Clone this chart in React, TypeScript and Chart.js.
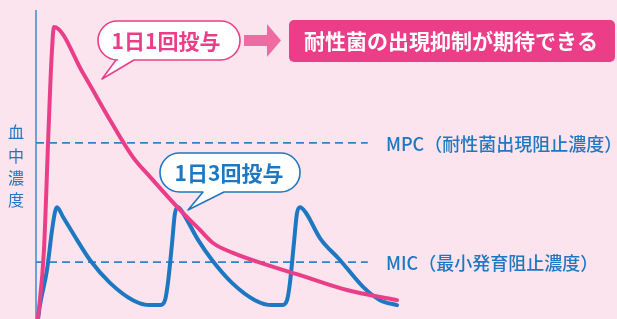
import { useEffect, useRef } from "react";
import { Chart, registerables } from "chart.js";
Chart.register(...registerables);

// time (hours) and concentration (relative units)
const onceDailyTime = [0.13, 0.52, 0.82, 1.01, 1.18, 3.07, 4.84, 6.34, 7.46, 9.42, 10.73, 11.58, 12.88, 15.11, 17.27, 20.34, 23.61];
const onceDailyConc = [0, 22.3, 61.2, 83.8, 94.5, 79.6, 64.4, 52.4, 46.0, 35.3, 28.8, 24.6, 21.4, 17.5, 14.2, 9.4, 6.1];

const thriceDailyTime = [0.13, 0.26, 0.72, 1.05, 1.24, 1.37, 1.77, 2.68, 3.53, 4.84, 6.34, 7.46, 8.11, 8.44, 8.63, 8.9, 9.09, 9.29, 9.61, 10.6, 11.51, 12.82, 14.32, 15.43, 16.09, 16.42, 16.61, 16.87, 17.07, 17.27, 17.66, 18.57, 19.88, 21.39, 22.5, 23.61];
const thriceDailyConc = [0, 4.5, 15.9, 28.8, 34.6, 36.2, 33.0, 25.6, 19.1, 11.7, 6.1, 4.5, 4.5, 6.1, 11.7, 24.6, 34.3, 36.2, 34.3, 25.6, 19.1, 11.7, 6.1, 4.5, 4.5, 6.1, 11.7, 24.6, 34.3, 36.2, 34.3, 26.2, 19.1, 10.4, 6.1, 4.5];

const thresholdNames = ["MPC（耐性菌出現阻止濃度）", "MIC（最小発育阻止濃度）"];
const thresholdValues = [57.0, 18.4];
const thresholdSpan = [0, 21.7];

const yAxisTitle = ["血", "中", "濃", "度"];
const onceLabel = "1日1回投与";
const thriceLabel = "1日3回投与";
const resultLabel = "耐性菌の出現抑制が期待できる";

const PINK = "#ea3f88";
const BLUE = "#1d78c1";
const BG = "#fbe4ee";
const FONT = '"Noto Sans CJK JP", "Noto Sans", sans-serif';

function bubble(ctx: CanvasRenderingContext2D, x: number, y: number, w: number, h: number, tail: number[], stroke: string) {
  const r = h / 2;
  ctx.save();
  ctx.beginPath();
  ctx.moveTo(x + r, y);
  ctx.lineTo(x + w - r, y);
  ctx.arc(x + w - r, y + r, r, -Math.PI / 2, Math.PI / 2);
  ctx.lineTo(tail[2], y + h);
  ctx.lineTo(tail[4], tail[5]);
  ctx.lineTo(tail[0], y + h);
  ctx.lineTo(x + r, y + h);
  ctx.arc(x + r, y + r, r, Math.PI / 2, (Math.PI * 3) / 2);
  ctx.closePath();
  ctx.fillStyle = "#ffffff";
  ctx.fill();
  ctx.lineWidth = 1.6;
  ctx.strokeStyle = stroke;
  ctx.lineJoin = "round";
  ctx.stroke();
  ctx.restore();
}

const decorPlugin = {
  id: "decor",
  beforeDatasetsDraw(chart: any) {
    const ctx: CanvasRenderingContext2D = chart.ctx;
    const a = chart.chartArea;
    ctx.save();
    ctx.strokeStyle = "#3a8ccf";
    ctx.lineWidth = 1.5;
    ctx.beginPath();
    ctx.moveTo(a.left, a.top);
    ctx.lineTo(a.left, a.bottom);
    ctx.stroke();
    ctx.restore();
  },
  afterDatasetsDraw(chart: any) {
    const ctx: CanvasRenderingContext2D = chart.ctx;
    const ys = chart.scales.y;
    ctx.save();
    // y axis title
    ctx.fillStyle = BLUE;
    ctx.font = `16px ${FONT}`;
    ctx.textAlign = "center";
    ctx.textBaseline = "middle";
    const ty = [132, 156, 178, 200];
    yAxisTitle.forEach((c, i) => ctx.fillText(c, 16, ty[i]));

    // threshold labels
    ctx.font = `500 18px ${FONT}`;
    ctx.textAlign = "left";
    thresholdNames.forEach((n, i) => {
      ctx.fillText(n, 386, ys.getPixelForValue(thresholdValues[i]) + 1);
    });

    // once daily bubble
    bubble(ctx, 98, 21, 142, 39, [116, 58, 134, 58, 102, 79], PINK);
    ctx.fillStyle = PINK;
    ctx.font = `bold 21px ${FONT}`;
    ctx.textAlign = "center";
    ctx.fillText(onceLabel, 166, 41);

    // arrow
    ctx.fillStyle = "#ef6ca2";
    ctx.beginPath();
    ctx.moveTo(244, 35);
    ctx.lineTo(267, 35);
    ctx.lineTo(267, 24);
    ctx.lineTo(281, 40.5);
    ctx.lineTo(267, 57);
    ctx.lineTo(267, 46);
    ctx.lineTo(244, 46);
    ctx.closePath();
    ctx.fill();

    // result box
    ctx.fillStyle = "#ec3d89";
    ctx.beginPath();
    (ctx as any).roundRect(289, 20, 326, 42, 5);
    ctx.fill();
    ctx.fillStyle = "#ffffff";
    ctx.font = `bold 21px ${FONT}`;
    ctx.fillText(resultLabel, 451, 41);

    // thrice daily bubble
    bubble(ctx, 160, 153, 140, 39, [203, 191, 224, 191, 188, 210], BLUE);
    ctx.fillStyle = BLUE;
    ctx.font = `bold 21px ${FONT}`;
    ctx.fillText(thriceLabel, 229, 173);
    ctx.restore();
  },
};

export default function App() {
  const ref = useRef<HTMLCanvasElement>(null);
  useEffect(() => {
    document.body.style.margin = "0";
    document.body.style.background = BG;
    const toPts = (xs: number[], ys: number[]) => xs.map((x, i) => ({ x, y: ys[i] }));
    const dashed = thresholdValues.map((v) => ({
      data: thresholdSpan.map((x) => ({ x, y: v })),
      borderColor: "#2f84c8",
      borderWidth: 1.6,
      borderDash: [8, 5],
      pointRadius: 0,
      order: 3,
    }));
    const chart = new Chart(ref.current!, {
      type: "line",
      data: {
        datasets: [
          ...dashed,
          {
            data: toPts(thriceDailyTime, thriceDailyConc),
            borderColor: BLUE,
            borderWidth: 4,
            pointRadius: 0,
            cubicInterpolationMode: "monotone",
            borderJoinStyle: "round",
            borderCapStyle: "round",
            clip: false,
            order: 2,
          },
          {
            data: toPts(onceDailyTime, onceDailyConc),
            borderColor: PINK,
            borderWidth: 4,
            pointRadius: 0,
            cubicInterpolationMode: "monotone",
            borderJoinStyle: "round",
            borderCapStyle: "round",
            clip: false,
            order: 1,
          },
        ] as any,
      },
      options: {
        animation: false,
        responsive: false,
        devicePixelRatio: 1,
        layout: { padding: { left: 36, top: 10, right: 0, bottom: 0 } },
        scales: {
          x: { type: "linear", min: 0, max: 38, display: false },
          y: { type: "linear", min: 0, max: 100, display: false },
        },
        plugins: { legend: { display: false }, tooltip: { enabled: false } },
      },
      plugins: [decorPlugin],
    });
    return () => chart.destroy();
  }, []);
  return (
    <div style={{ width: 617, height: 319, background: BG }}>
      <canvas ref={ref} width={617} height={319} style={{ display: "block" }} />
    </div>
  );
}
